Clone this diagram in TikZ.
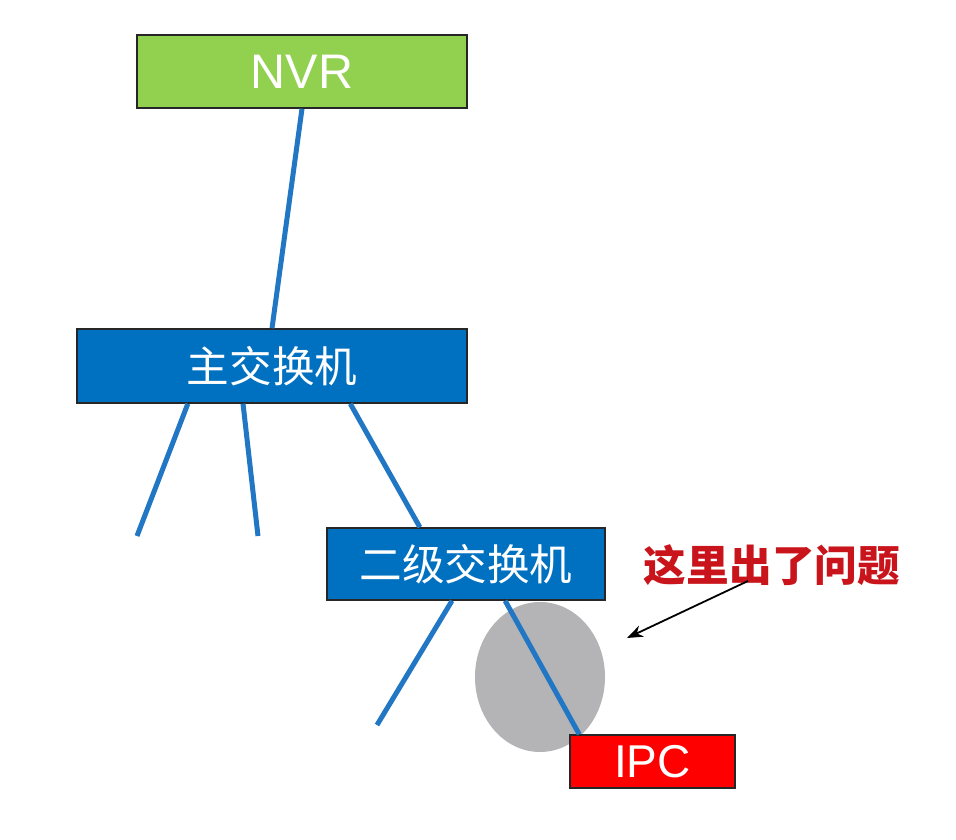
\documentclass[tikz,border=0pt]{standalone}
\usepackage{fontspec}
\setmainfont{Liberation Sans}
\newfontfamily\cjk{Noto Sans CJK SC}
\usetikzlibrary{calc,arrows.meta}
\definecolor{nvrgreen}{HTML}{92D050}
\definecolor{swblue}{HTML}{0070C0}
\definecolor{linkblue}{HTML}{2177C4}
\definecolor{ipcred}{HTML}{FF0000}
\definecolor{warnred}{HTML}{C8141A}
\definecolor{faultgray}{HTML}{B4B4B6}
\tikzset{
  box/.style={draw=black!85, line width=1.5pt, inner sep=0pt, text=white, align=center},
  link/.style={draw=linkblue, line width=5pt},
  pointer/.style={draw=black, line width=1.8pt, -{Stealth[length=16pt,width=12pt]}},
  han/.style={font=\cjk\fontsize{42.6}{50}\selectfont},
}
\begin{document}
\begin{tikzpicture}[x=1pt,y=-1pt]
\useasboundingbox (0,0) rectangle (956,840);
\fill[white] (0,0) rectangle (956,840);

% fault area
\fill[faultgray] (540,677) ellipse [x radius=65, y radius=75];

% nodes
\node[box, fill=nvrgreen, minimum width=330pt, minimum height=73pt, font=\fontsize{48.5}{56}\selectfont] (nvr) at (302,71.5) {NVR};
\node[box, fill=swblue, minimum width=390pt, minimum height=74pt, han] (main) at (272,366) {主交换机};
\node[box, fill=swblue, minimum width=278pt, minimum height=72pt, han] (sw2) at (466,564) {二级交换机};
\node[box, fill=ipcred, minimum width=165pt, minimum height=53pt, font=\fontsize{46}{52}\selectfont] (ipc) at (652.5,761.5) {IPC};
\node[text=warnred, font=\cjk\bfseries\fontsize{42.7}{50}\selectfont, inner sep=0pt] (lbl) at (772,565) {这里出了问题};

% free ends
\coordinate (e1) at (137,536);
\coordinate (e2) at (258,536);
\coordinate (e3) at (377,725);
\coordinate (astart) at (748,581);
\coordinate (aend) at (627,638);

% links
\path[link] (nvr.south) -- (main.north);
\path[link] ($(main.south west)!0.285!(main.south east)$) -- (e1);
\path[link] ($(main.south west)!0.426!(main.south east)$) -- (e2);
\path[link] ($(main.south west)!0.70!(main.south east)$) -- ($(sw2.north west)!0.335!(sw2.north east)$);
\path[link] ($(sw2.south west)!0.45!(sw2.south east)$) -- (e3);
\path[link] ($(sw2.south west)!0.64!(sw2.south east)$) -- ($(ipc.north west)!0.06!(ipc.north east)$);

\draw[pointer] (astart) -- (aend);
\end{tikzpicture}
\end{document}
